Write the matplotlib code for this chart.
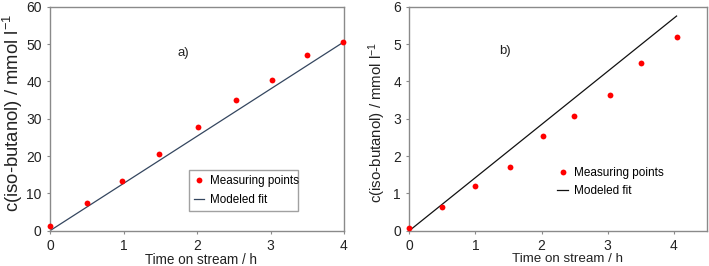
import matplotlib
matplotlib.use("Agg")
import matplotlib.pyplot as plt

plt.rcParams['font.family'] = ['Liberation Sans', 'DejaVu Sans']
plt.rcParams['mathtext.fontset'] = 'custom'
plt.rcParams['mathtext.rm'] = 'Liberation Sans'
plt.rcParams['mathtext.default'] = 'regular'

# Panel a)
t_a = [0.0, 0.5, 0.98, 1.48, 2.02, 2.53, 3.02, 3.5, 3.99]
c_a = [1.3, 7.4, 13.2, 20.5, 27.9, 35.0, 40.3, 47.1, 50.5]
fit_a_t = [0.0, 4.0]
fit_a_c = [0.0, 50.6]

# Panel b)
t_b = [0.0, 0.5, 1.0, 1.52, 2.02, 2.49, 3.03, 3.5, 4.05]
c_b = [0.07, 0.63, 1.19, 1.70, 2.54, 3.06, 3.64, 4.48, 5.18]
fit_b_t = [0.0, 4.04]
fit_b_c = [0.0, 5.75]

xticks = [0, 1, 2, 3, 4]
yticks_a = [0, 10, 20, 30, 40, 50, 60]
yticks_b = [0, 1, 2, 3, 4, 5, 6]

xlabel = 'Time on stream / h'
ylabel = 'c(iso-butanol) / mmol l$^{-1}$'

W, H = 709, 266
fig = plt.figure(figsize=(W/100, H/100), dpi=100)

def box(l, r, t, b):
    return [l/W, 1 - b/H, (r - l)/W, (b - t)/H]

ax1 = fig.add_axes(box(50, 344, 6.7, 230.7))
ax2 = fig.add_axes(box(409.3, 707, 6.7, 230.7))

for ax in (ax1, ax2):
    for s in ax.spines.values():
        s.set_color('#8a8a8a')
        s.set_linewidth(1.0)
    ax.tick_params(direction='out', length=2, width=0.8, color='#8a8a8a',
                   labelsize=10, labelcolor='#222222', pad=4)
    ax.set_xticks(xticks)

# Panel a
ax1.plot(fit_a_t, fit_a_c, color='#34465f', lw=0.9, label='Modeled fit', zorder=2)
ax1.plot(t_a, c_a, 'o', color='#ff0000', ms=4.2, mec='none', label='Measuring points',
         zorder=3, clip_on=False)
ax1.set_xlim(0, 4)
ax1.set_ylim(0, 60)
ax1.set_yticks(yticks_a)
ax1.text(1.73, 47.6, 'a)', fontsize=9.5, color='#222222', ha='left', va='center')
h, l = ax1.get_legend_handles_labels()
leg1 = ax1.legend([h[1], h[0]], [l[1], l[0]], loc='lower left',
                  bbox_to_anchor=((189-50)/294, (230.7-211)/224, (298-189)/294, (211-169)/224),
                  mode='expand', fontsize=8.4, frameon=True, fancybox=False,
                  edgecolor='#8a8a8a', handlelength=0.85, handletextpad=0.5,
                  borderaxespad=0, borderpad=0.45, labelspacing=0.6, markerscale=1.0)
leg1.get_frame().set_linewidth(1.0)

# Panel b
ax2.plot(fit_b_t, fit_b_c, color='#111111', lw=0.9, label='Modeled fit', zorder=2)
ax2.plot(t_b, c_b, 'o', color='#ff0000', ms=4.2, mec='none', label='Measuring points',
         zorder=3, clip_on=False)
ax2.set_xlim(0, 4.5)
ax2.set_ylim(0, 6)
ax2.set_yticks(yticks_b)
ax2.text(1.36, 4.81, 'b)', fontsize=9.5, color='#222222', ha='left', va='center')
h, l = ax2.get_legend_handles_labels()
ax2.legend([h[1], h[0]], [l[1], l[0]], loc='upper left',
           bbox_to_anchor=((555-409.3)/297.7, (230.7-165)/224),
           fontsize=8.5, frameon=False, handlelength=0.9, handletextpad=0.5,
           borderaxespad=0, borderpad=0.2, labelspacing=0.45)

# Axis labels placed in figure pixels, sized to the reference extents
def place(text, cx, cy, target_len, vertical):
    fig.canvas.draw()
    r = fig.canvas.get_renderer()
    bb = text.get_window_extent(r)
    cur = bb.height if vertical else bb.width
    text.set_fontsize(text.get_fontsize() * target_len / cur)
    text.set_position((cx / W, 1 - cy / H))

labels = []
t = fig.text(0, 0, xlabel, fontsize=10, color='#222222', ha='center', va='top')
labels.append((t, 201, 253, 113, False))
t = fig.text(0, 0, xlabel, fontsize=10, color='#222222', ha='center', va='top')
labels.append((t, 568, 253, 112, False))
t = fig.text(0, 0, ylabel, fontsize=11, color='#222222', ha='center', va='center', rotation=90)
labels.append((t, 12.5, 113, 198, True))
t = fig.text(0, 0, ylabel, fontsize=11, color='#222222', ha='center', va='center', rotation=90)
labels.append((t, 377.5, 122.5, 161, True))
for args in labels:
    place(*args)

fig.savefig('out.png', dpi=100)
